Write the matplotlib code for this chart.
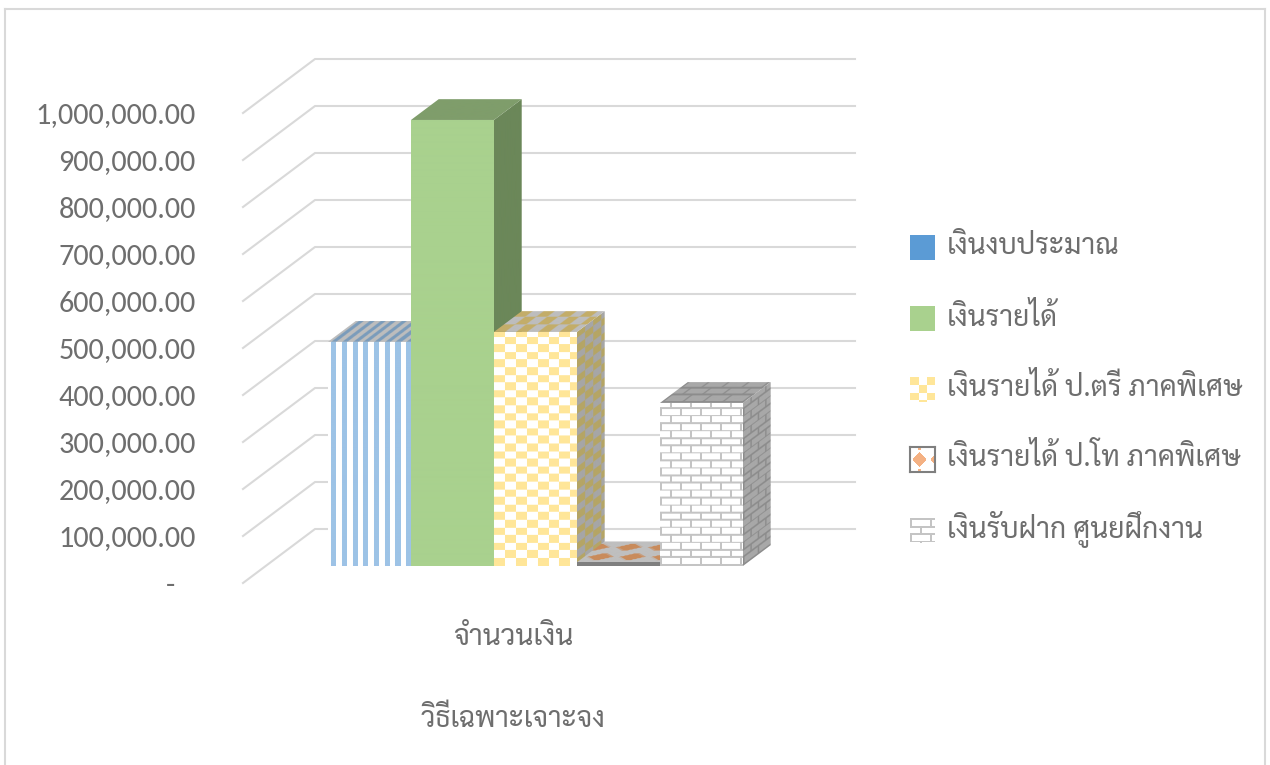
import numpy as np
import matplotlib
matplotlib.use('Agg')
import matplotlib.pyplot as plt
from matplotlib.lines import Line2D
from matplotlib.patches import Polygon
from matplotlib.transforms import Affine2D

# -------------------- data ---------------------------------
series_names = ['เงินงบประมาณ', 'เงินรายได้', 'เงินรายได้ ป.ตรี ภาคพิเศษ',
                'เงินรายได้ ป.โท ภาคพิเศษ', 'เงินรับฝาก ศูนยฝึกงาน']
series_values = [477000, 949000, 498000, 8000, 347000]
y_ticks = [0, 100000, 200000, 300000, 400000, 500000, 600000, 700000, 800000, 900000, 1000000]
y_labels = ['-   ', '100,000.00', '200,000.00', '300,000.00', '400,000.00', '500,000.00',
            '600,000.00', '700,000.00', '800,000.00', '900,000.00', '1,000,000.00']
category = 'จำนวนเงิน'
axis_title = 'วิธีเฉพาะเจาะจง'

# -------------------- fake 3d layout ------------------------
W, H = 1270, 765
PX_X = 83.0                     # pixels per bar slot
PX_Y = 47.0 / 100000            # pixels per baht
DX = 72.0 / PX_X                # full floor depth in x units
DY = 54.0 / PX_Y                # full floor depth in y units
D_FRONT, D_BACK = 0.315, 0.70   # where the bars stand on the floor
X_WALL = -0.787
X_RIGHT = 6.587

TEXT = '#6E6E6E'
THAI = ['Sarabun', 'Noto Sans Thai', 'Loma', 'DejaVu Sans']
NUM = ['Carlito', 'Lato', 'DejaVu Sans']


def stripes(w, h):
    xx = np.arange(w)[None, :].repeat(h, 0)
    return (xx + 8) % 10.7 < 5.2


def checks(w, h, cell=10.8):
    yy, xx = np.mgrid[0:h, 0:w]
    return ((xx // cell).astype(int) + (yy // 7.6).astype(int)) % 2 == 0


def bricks(w, h, cell=20):
    yy, xx = np.mgrid[0:h, 0:w]
    row = (yy // 7.4).astype(int)
    return (yy % 7.4 < 1.6) | (((xx + row * cell / 2) % cell) < 1.6)


def diamonds(w, h):
    yy, xx = np.mgrid[0:h, 0:w]
    row = (yy // 10).astype(int)
    cx = (xx + row * 16) % 32 - 16
    cy = yy % 10 - 5
    return np.abs(cx) / 13 + np.abs(cy) / 4 < 1


def swatch_diamond(w, h):
    yy, xx = np.mgrid[0:h, 0:w]
    one = np.abs(xx - 9) / 7 + np.abs(yy - 12) / 8 < 1
    two = np.abs(xx - 27) / 7 + np.abs(yy - 12) / 8 < 1
    ticks = (np.abs(xx - 9) < 1.5) & ((yy < 3) | (yy > 21))
    return one | two | ticks


def solid(w, h):
    return np.ones((h, w), bool)


def make_img(tex, w, h, a, b, cell=None):
    w, h = int(round(w)), int(round(h))
    mask = tex(w, h) if cell is None else tex(w, h, cell)
    a = np.array(matplotlib.colors.to_rgb(a))
    b = np.array(matplotlib.colors.to_rgb(b))
    return np.where(mask[..., None], a, b)


def face(ax, img, origin, u, v, z):
    # map unit square on a parallelogram in data coords
    m = np.array([[u[0], v[0], origin[0]], [u[1], v[1], origin[1]], [0, 0, 1]])
    im = ax.imshow(img, extent=(0, 1, 0, 1), origin='lower', aspect='auto',
                   interpolation='bilinear', zorder=z,
                   transform=Affine2D(m) + ax.transData)
    o = np.array(origin)
    corners = [o, o + u, o + np.array(u) + v, o + v]
    im.set_clip_path(Polygon(corners, closed=True, transform=ax.transData))


# texture and colours for front, side, top
styles = [
    (stripes, ('#9DC3E6', '#FFFFFF'), ('#7B9CBB', '#BDBDBD'), ('#7B9CBB', '#BDBDBD')),
    (solid, ('#A9D18E', '#A9D18E'), ('#6B8759', '#6B8759'), ('#7F9D6B', '#7F9D6B')),
    (checks, ('#FFE699', '#FFFFFF'), ('#B5A565', '#A6A6A6'), ('#C3AD69', '#BDBDBD')),
    (diamonds, ('#7F7F7F', '#7F7F7F'), ('#7F7F7F', '#7F7F7F'), ('#C98B5B', '#BFBFBF')),
    (bricks, ('#C4C4C4', '#FFFFFF'), ('#8C8C8C', '#A8A8A8'), ('#8C8C8C', '#A8A8A8')),
]

fig = plt.figure(figsize=(W / 100, H / 100), dpi=100)
ax = fig.add_axes([243 / W, (H - 583) / H, 612 / W, 524 / H])

# gridlines on side wall and back wall
for t in y_ticks:
    ax.plot([X_WALL, X_WALL + DX, X_RIGHT], [t, t + DY, t + DY],
            color='#D9D9D9', lw=1.5, clip_on=False, zorder=1)

# bars, left to right so each one covers the side of the last
ddx = (D_BACK - D_FRONT) * DX
ddy = (D_BACK - D_FRONT) * DY
for i, val in enumerate(series_values):
    tex, front_c, side_c, top_c = styles[i]
    x_f = i - 0.036 + D_FRONT * DX
    y_f = D_FRONT * DY
    z = 3 + i
    h_px = max(val * PX_Y, 2)
    # side
    face(ax, make_img(tex, 38, h_px, *side_c), (x_f + 1, y_f), (ddx, ddy), (0, val), z)
    # top
    face(ax, make_img(tex, PX_X, 22, *top_c), (x_f, y_f + val), (1, 0), (ddx, ddy), z)
    # front
    face(ax, make_img(tex, PX_X, h_px, *front_c), (x_f, y_f), (1, 0), (0, val), z + 0.5)

ax.set_xlim(X_WALL, X_RIGHT)
ax.set_ylim(0, 1000000 + DY)
for s in ax.spines.values():
    s.set_visible(False)
ax.patch.set_alpha(0)
ax.set_yticks(y_ticks)
ax.set_yticklabels(y_labels, family=NUM, fontsize=21.8, color=TEXT)
ax.set_xticks([2.466])
ax.set_xticklabels([category], family=THAI, fontsize=20.5, color=TEXT)
ax.tick_params(axis='y', length=0, pad=34)
ax.tick_params(axis='x', length=0, pad=28.5)
ax.set_xlabel(axis_title, family=THAI, fontsize=20.2, color=TEXT, labelpad=39, x=(513 - 243) / 612)

# legend swatches and names
swatch_tops = [235, 306, 377, 447, 518]
legend_tex = [
    (solid, '#5B9BD5', '#5B9BD5', None),
    (solid, '#A9D18E', '#A9D18E', None),
    (checks, '#FFE699', '#FFFFFF', 8.3),
    (swatch_diamond, '#F4B183', '#FFFFFF', None),
    (bricks, '#C4C4C4', '#FFFFFF', 20),
]
for k, (name, top, (tex, a, b, cell)) in enumerate(zip(series_names, swatch_tops, legend_tex)):
    sw = fig.add_axes([910 / W, (H - top - 25) / H, 25 / W, 25 / H])
    sw.imshow(make_img(tex, 25, 25, a, b, cell), interpolation='nearest', aspect='auto')
    sw.set_xticks([])
    sw.set_yticks([])
    for s in sw.spines.values():
        s.set_visible(k == 3)
        s.set_edgecolor('#7F7F7F')
        s.set_linewidth(1.5)
    fig.text(947 / W, 1 - (top + 12) / H, name, family=THAI, fontsize=20.4, color=TEXT, va='center')

# outer chart border, bottom edge is outside the picture
for xs, ys in [([5, 5], [765, 9]), ([5, 1265], [9, 9]), ([1265, 1265], [9, 765])]:
    fig.add_artist(Line2D([x / W for x in xs], [1 - y / H for y in ys], color='#D9D9D9', lw=1.5))

fig.savefig('out.png', dpi=100)
